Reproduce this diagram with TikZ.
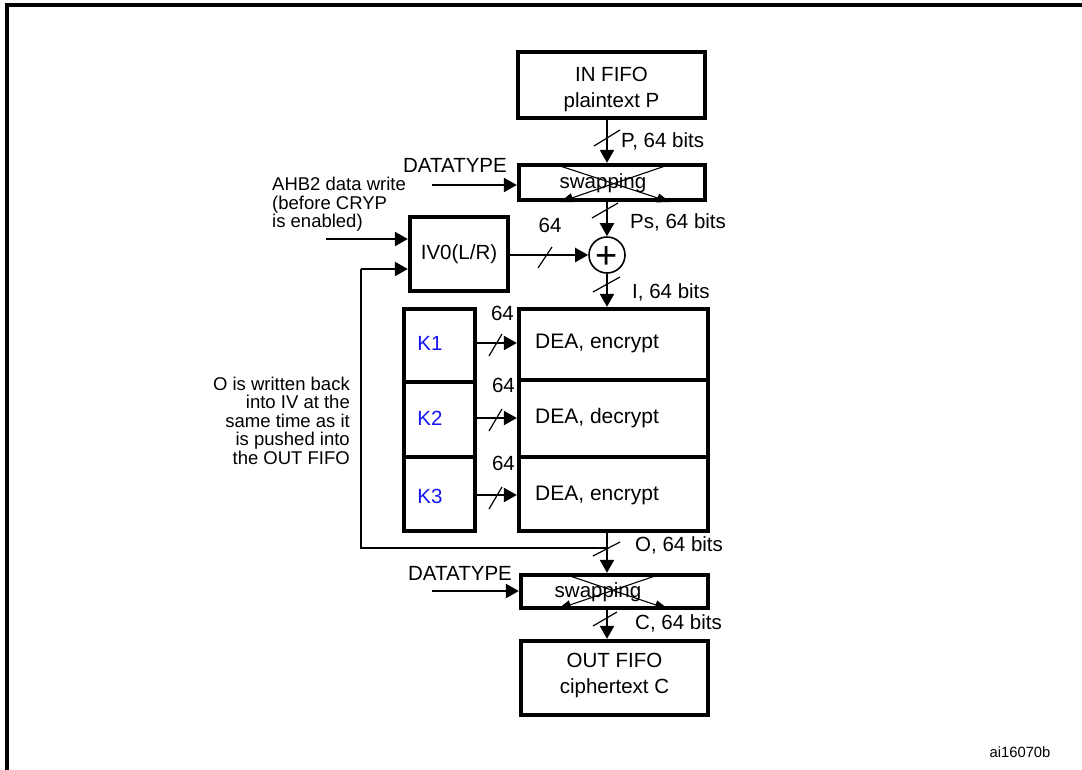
\documentclass[tikz,border=0pt]{standalone}
\usepackage{fontspec}
\setmainfont{Liberation Sans}
\usetikzlibrary{arrows.meta,calc}
\definecolor{kblue}{RGB}{20,20,240}
\newcommand\ftmain{\fontsize{20.5}{26}\selectfont}
\newcommand\ftdea{\fontsize{21}{26}\selectfont}
\newcommand\ftsmall{\fontsize{18.5}{18.5}\selectfont}
\newcommand\fttag{\fontsize{14.8}{17}\selectfont}
\begin{document}
\begin{tikzpicture}[x=1pt,y=-1pt,
  box/.style={draw,line width=4.3pt,inner sep=0pt},
  arr/.style={line width=2.3pt,-{Triangle[length=13pt,width=14pt]}},
  thinarr/.style={line width=1.1pt,-{Triangle[length=13pt,width=9pt]}},
  slash/.style={line width=1.2pt},
  fb/.style={line width=1.5pt},
  lbl/.style={inner sep=0pt,font=\ftmain},
  small/.style={inner sep=0pt,font=\ftsmall}]
\useasboundingbox (0,0) rectangle (1082,769);
\begin{scope}
  \clip (0,0) rectangle (1082,769);
  \draw[line width=3.5pt] (7,790) -- (7,5) -- (1100,5);
\end{scope}
\coordinate (ax) at (607,0);
% boxes
\node[box,minimum width=187pt,minimum height=66pt] (infifo) at (611.5,85) {};
\node[lbl,align=center] (infifot) at (611.5,89) {IN FIFO\\plaintext P};
\node[box,minimum width=186pt,minimum height=35pt] (swap1) at (612,182.5) {};
\node[lbl] (sw1t) at (603,183) {swapping};
\node[box,minimum width=98pt,minimum height=74pt,font=\ftmain] (iv) at (459,254) {IV0(L/R)};
\node[draw,circle,line width=1.6pt,minimum size=36pt,inner sep=0pt] (plus) at (607,255) {};
\node[inner sep=0pt,font=\fontsize{38}{38}\selectfont] (plust) at (607,258) {+};
\node[box,minimum width=189pt,minimum height=71pt] (dea1) at (613.5,344.5) {};
\node[box,minimum width=189pt,minimum height=77pt] (dea2) at (613.5,418.5) {};
\node[box,minimum width=189pt,minimum height=74pt] (dea3) at (613.5,494) {};
\node[inner sep=0pt,font=\ftdea,anchor=west] (dea1t) at (535,343) {DEA, encrypt};
\node[inner sep=0pt,font=\ftdea,anchor=west] (dea2t) at (535,418) {DEA, decrypt};
\node[inner sep=0pt,font=\ftdea,anchor=west] (dea3t) at (535,495) {DEA, encrypt};
\node[box,minimum width=71pt,minimum height=73pt] (k1) at (439.5,345.5) {};
\node[box,minimum width=71pt,minimum height=75pt] (k2) at (439.5,419.5) {};
\node[box,minimum width=71pt,minimum height=74pt] (k3) at (439.5,494) {};
\node[lbl,text=kblue] (k1t) at (430,343) {K1};
\node[lbl,text=kblue] (k2t) at (430,418) {K2};
\node[lbl,text=kblue] (k3t) at (430,496) {K3};
\node[box,minimum width=187pt,minimum height=33pt] (swap2) at (614.5,591.5) {};
\node[lbl] (sw2t) at (598,592) {swapping};
\node[box,minimum width=187pt,minimum height=74pt] (outfifo) at (614.5,678) {};
\node[lbl,align=center] (outfifot) at (614.5,675) {OUT FIFO\\ciphertext C};
% labels
\node[lbl,anchor=west] (lp) at (621,141) {P, 64 bits};
\node[lbl,anchor=west] (lps) at (630,222) {Ps, 64 bits};
\node[lbl,anchor=west] (li) at (632,292) {I, 64 bits};
\node[lbl,anchor=west] (lo) at (635,545) {O, 64 bits};
\node[lbl,anchor=west] (lc) at (635,623) {C, 64 bits};
\node[lbl] (l64) at (550,225) {64};
\node[lbl,anchor=east] (lk1) at (514,313) {64};
\node[lbl,anchor=east] (lk2) at (515,385) {64};
\node[lbl,anchor=east] (lk3) at (515,463) {64};
\node[lbl] (dt1) at (455,165) {DATATYPE};
\node[lbl] (dt2) at (460,573) {DATATYPE};
\node[small,align=left,anchor=north west] (ahb) at (272,177) {AHB2 data write\\(before CRYP\\is enabled)};
\node[small,align=right,anchor=north east] (otxt) at (350,376.5) {O is written back\\into IV at the\\same time as it\\is pushed into\\the OUT FIFO};
\node[inner sep=0pt,font=\fttag] (tag) at (1020,752) {ai16070b};
% connectors
\draw[arr] (infifo.south -| ax) -- (swap1.north -| ax);
\draw[arr] (swap1.south -| ax) -- (plus.north);
\draw[arr] (iv.east |- plus) -- (plus.west);
\draw[arr] (plus.south) -- (dea1.north -| ax);
\draw[arr] (k1.east |- dea1t) -- (dea1.west |- dea1t);
\draw[arr] (k2.east |- dea2t) -- (dea2.west |- dea2t);
\draw[arr] (k3.east |- dea3t) -- (dea3.west |- dea3t);
\draw[arr] (dea3.south -| ax) -- (swap2.north -| ax);
\draw[arr] (swap2.south -| ax) -- (outfifo.north -| ax);
\coordinate (dt1s) at (432,185);
\coordinate (dt2s) at (432,591);
\draw[arr] (dt1s) -- (dt1s -| swap1.west);
\draw[arr] (dt2s) -- (dt2s -| swap2.west);
\coordinate (ahbs) at (326,239);
\draw[arr] (ahbs) -- (ahbs -| iv.west);
\coordinate (fbj) at (607,548);
\coordinate (fbe) at (361,269);
\draw[fb] (fbj) -| (fbe);
\draw[arr] (fbe) -- (fbe -| iv.west);
% swapping crosses
\draw[thinarr] (557,165) -- (670,202);
\draw[thinarr] (668,165) -- (560,202);
\draw[thinarr] (567,575) -- (668,609);
\draw[thinarr] (658,575) -- (558,609);
% bus slashes
\draw[slash] (594,146) -- (620,130);
\draw[slash] (592,218) -- (618,203);
\draw[slash] (538,268) -- (552,247);
\draw[slash] (593,292) -- (620,277);
\draw[slash] (489,356) -- (502,334);
\draw[slash] (489,431) -- (502,409);
\draw[slash] (489,509) -- (502,487);
\draw[slash] (593,556) -- (620,542);
\draw[slash] (593,626) -- (617,612);
\end{tikzpicture}
\end{document}
